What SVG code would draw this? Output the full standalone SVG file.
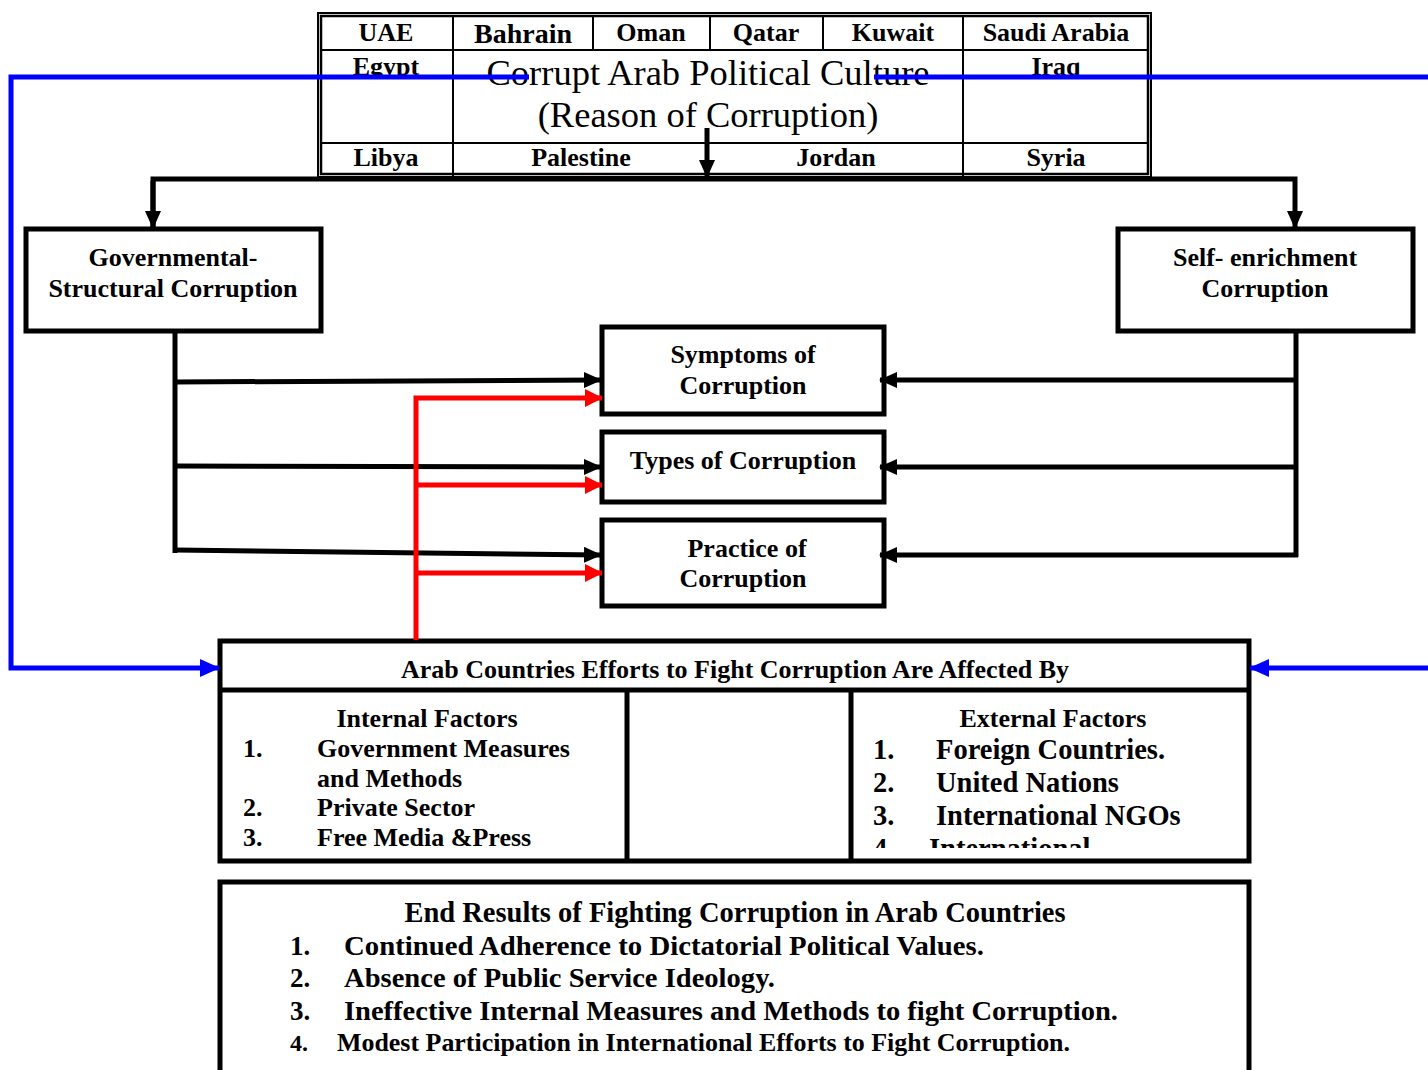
<svg xmlns="http://www.w3.org/2000/svg" width="1428" height="1070" viewBox="0 0 1428 1070">
<style>
text{font-family:"Liberation Serif","Times New Roman",serif;font-weight:bold;fill:#000}
.c{text-anchor:middle}
.n{font-weight:normal}
.box{fill:#fff;stroke:#000;stroke-width:5}
.tl{stroke:#000;stroke-width:2;fill:none}
.k{stroke:#000;stroke-width:5;fill:none}
.r{stroke:#f00;stroke-width:5;fill:none}
.b{stroke:#00f;stroke-width:5;fill:none}
.t26{font-size:26px}
.t28{font-size:28px}
</style>
<defs>
<marker id="ak" markerUnits="userSpaceOnUse" markerWidth="18" markerHeight="16" refX="17" refY="8" orient="auto"><path d="M0,0L18,8L0,16z" fill="#000"/></marker>
<marker id="ar" markerUnits="userSpaceOnUse" markerWidth="18" markerHeight="18" refX="17" refY="9" orient="auto"><path d="M0,0L18,9L0,18z" fill="#f00"/></marker>
<marker id="ab" markerUnits="userSpaceOnUse" markerWidth="20" markerHeight="18" refX="19" refY="9" orient="auto"><path d="M0,0L20,9L0,18z" fill="#00f"/></marker>
<clipPath id="cr2"><rect x="320" y="50" width="830" height="26"/></clipPath>
<clipPath id="cext"><rect x="853" y="692" width="394" height="156"/></clipPath>
</defs>

<g id="table">
<rect x="318" y="13" width="833" height="164" fill="#fff" stroke="#000" stroke-width="2"/>
<rect x="321" y="16" width="827" height="158" fill="none" stroke="#000" stroke-width="2.5"/>
<line class="tl" x1="320" y1="50" x2="1149" y2="50"/>
<line class="tl" x1="320" y1="143" x2="1149" y2="143"/>
<line class="tl" x1="453" y1="16" x2="453" y2="176"/>
<line class="tl" x1="593" y1="16" x2="593" y2="50"/>
<line class="tl" x1="710" y1="16" x2="710" y2="50"/>
<line class="tl" x1="823" y1="16" x2="823" y2="50"/>
<line class="tl" x1="963" y1="16" x2="963" y2="176"/>
<text class="c t26" x="386" y="41">UAE</text>
<text class="c t28" x="523" y="43">Bahrain</text>
<text class="c t26" x="651" y="41">Oman</text>
<text class="c t26" x="766" y="41">Qatar</text>
<text class="c t26" x="893" y="41">Kuwait</text>
<text class="c t26" x="1056" y="41">Saudi Arabia</text>
<g clip-path="url(#cr2)">
<text class="c t26" x="386" y="75">Egypt</text>
<text class="c t26" x="1056" y="75">Iraq</text>
</g>
<text class="c n" x="708" y="85" font-size="36.5">Corrupt Arab Political Culture</text>
<text class="c n" x="708" y="127" font-size="36.5">(Reason of Corruption)</text>
<text class="c t26" x="386" y="166">Libya</text>
<text class="c t26" x="581" y="166">Palestine</text>
<text class="c t26" x="836" y="166">Jordan</text>
<text class="c t26" x="1056" y="166">Syria</text>
</g>

<g id="gov">
<rect class="box" x="26" y="229" width="295" height="102"/>
<text class="c t26" x="173" y="266">Governmental-</text>
<text class="c t26" x="173" y="297">Structural Corruption</text>
</g>
<g id="self">
<rect class="box" x="1118" y="229" width="295" height="102"/>
<text class="c t26" x="1265" y="266">Self- enrichment</text>
<text class="c t26" x="1265" y="297">Corruption</text>
</g>
<g id="symptoms">
<rect class="box" x="602" y="327" width="282" height="87"/>
<text class="c t26" x="743" y="363">Symptoms of</text>
<text class="c t26" x="743" y="394">Corruption</text>
</g>
<g id="types">
<rect class="box" x="602" y="432" width="282" height="70"/>
<text class="c t26" x="743" y="469">Types of Corruption</text>
</g>
<g id="practice">
<rect class="box" x="602" y="520" width="282" height="86"/>
<text class="c t26" x="747" y="557">Practice of</text>
<text class="c t26" x="743" y="587">Corruption</text>
</g>

<g id="affected">
<rect class="box" x="220" y="641" width="1029" height="220"/>
<line class="k" x1="220" y1="690" x2="1249" y2="690"/>
<line class="k" x1="627" y1="690" x2="627" y2="861"/>
<line class="k" x1="851" y1="690" x2="851" y2="861"/>
<text class="c t26" x="735" y="678">Arab Countries Efforts to Fight Corruption Are Affected By</text>
</g>
<g id="internal">
<text class="c t26" x="427" y="727">Internal Factors</text>
<text class="t26" x="243" y="757">1.</text>
<text class="t26" x="317" y="757">Government Measures</text>
<text class="t26" x="317" y="787">and Methods</text>
<text class="t26" x="243" y="816">2.</text>
<text class="t26" x="317" y="816">Private Sector</text>
<text class="t26" x="243" y="846">3.</text>
<text class="t26" x="317" y="846">Free Media &amp;Press</text>
</g>
<g id="external" clip-path="url(#cext)">
<text class="c t26" x="1053" y="727">External Factors</text>
<text x="873" y="759" font-size="28.5">1.</text>
<text x="936" y="759" font-size="28.5">Foreign Countries.</text>
<text x="873" y="792" font-size="28.5">2.</text>
<text x="936" y="792" font-size="28.5">United Nations</text>
<text x="873" y="825" font-size="28.5">3.</text>
<text x="936" y="825" font-size="28.5">International NGOs</text>
<text x="873" y="858" font-size="28.5">4.</text>
<text x="929" y="858" font-size="28.5">International</text>
</g>

<g id="endresults">
<rect class="box" x="220" y="882" width="1029" height="200"/>
<text class="c" x="735" y="922" font-size="28.5">End Results of Fighting Corruption in Arab Countries</text>
<text x="290" y="955" font-size="27">1.</text>
<text x="344" y="955" font-size="27" textLength="640" lengthAdjust="spacingAndGlyphs">Continued Adherence to Dictatorial Political Values.</text>
<text x="290" y="987" font-size="27">2.</text>
<text x="344" y="987" font-size="27" textLength="431" lengthAdjust="spacingAndGlyphs">Absence of Public Service Ideology.</text>
<text x="290" y="1020" font-size="27">3.</text>
<text x="344" y="1020" font-size="27" textLength="774" lengthAdjust="spacingAndGlyphs">Ineffective Internal Measures and Methods to fight Corruption.</text>
<text x="290" y="1051" font-size="24">4.</text>
<text x="337" y="1051" font-size="25" textLength="733" lengthAdjust="spacingAndGlyphs">Modest Participation in International Efforts to Fight Corruption.</text>
</g>

<g id="connectors">
<line class="k" x1="707" y1="128" x2="707" y2="177" marker-end="url(#ak)"/>
<polyline class="k" points="153,228 153,179 1295,179 1295,228" marker-end="url(#ak)"/>
<line class="k" x1="153" y1="181" x2="153" y2="228" marker-end="url(#ak)"/>
<line class="k" x1="175" y1="331" x2="175" y2="553"/>
<line class="k" x1="175" y1="382" x2="601" y2="380" marker-end="url(#ak)"/>
<line class="k" x1="175" y1="466" x2="601" y2="467" marker-end="url(#ak)"/>
<line class="k" x1="175" y1="550" x2="601" y2="555" marker-end="url(#ak)"/>
<line class="k" x1="1296" y1="331" x2="1296" y2="557"/>
<line class="k" x1="1298" y1="380" x2="880" y2="380" marker-end="url(#ak)"/>
<line class="k" x1="1298" y1="467" x2="880" y2="467" marker-end="url(#ak)"/>
<line class="k" x1="1298" y1="555" x2="880" y2="555" marker-end="url(#ak)"/>
<polyline class="r" points="416,640 416,398 602,398" marker-end="url(#ar)"/>
<line class="r" x1="416" y1="485" x2="602" y2="485" marker-end="url(#ar)"/>
<line class="r" x1="416" y1="573" x2="602" y2="573" marker-end="url(#ar)"/>
<polyline class="b" points="529,77 11,77 11,668 219,668" marker-end="url(#ab)"/>
<line class="b" x1="874" y1="77" x2="1428" y2="77"/>
<line class="b" x1="1428" y1="668" x2="1250" y2="668" marker-end="url(#ab)"/>
</g>
</svg>
